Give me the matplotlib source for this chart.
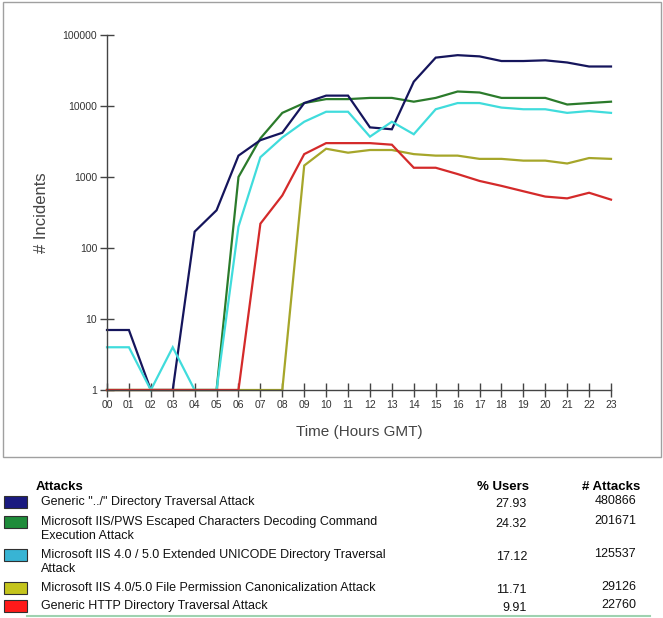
import numpy as np
import matplotlib
matplotlib.use("Agg")
import matplotlib.pyplot as plt
from matplotlib.patches import Rectangle
from matplotlib.lines import Line2D

W, H = 663, 618

hours = list(range(24))
hour_labels = [f"{h:02d}" for h in hours]

# incidents per hour
generic_dotdot = [7, 7, 1, 1, 170, 340, 2000, 3300, 4200, 11000, 14000, 14000,
                  5000, 4700, 22000, 48000, 52000, 50000, 43000, 43000, 44000,
                  41000, 36000, 36000]
iis_pws_escaped = [1, 1, 1, 1, 1, 1, 1000, 3500, 8000, 11000, 12500, 12500,
                   13000, 13000, 11500, 13000, 16000, 15500, 13000, 13000, 13000,
                   10500, 11000, 11500]
iis_unicode = [4, 4, 1, 4, 1, 1, 200, 1900, 3600, 6000, 8300, 8300,
               3700, 6000, 4000, 9000, 11000, 11000, 9500, 9000, 9000,
               8000, 8500, 8000]
iis_file_perm = [1, 1, 1, 1, 1, 1, 1, 1, 1, 1450, 2500, 2200,
                 2400, 2400, 2100, 2000, 2000, 1800, 1800, 1700, 1700,
                 1550, 1850, 1800]
generic_http = [1, 1, 1, 1, 1, 1, 1, 220, 550, 2100, 3000, 3000,
                3000, 2850, 1350, 1350, 1100, 880, 750, 630, 530,
                500, 600, 480]

y_ticks = [1, 10, 100, 1000, 10000, 100000]

attack_names = [
    'Generic "../" Directory Traversal Attack',
    "Microsoft IIS/PWS Escaped Characters Decoding Command\nExecution Attack",
    "Microsoft IIS 4.0 / 5.0 Extended UNICODE Directory Traversal\nAttack",
    "Microsoft IIS 4.0/5.0 File Permission Canonicalization Attack",
    "Generic HTTP Directory Traversal Attack",
]
pct_users = ["27.93", "24.32", "17.12", "11.71", "9.91"]
n_attacks = ["480866", "201671", "125537", "29126", "22760"]

series = [generic_dotdot, iis_pws_escaped, iis_unicode, iis_file_perm, generic_http]
line_colors = ["#15155c", "#2b7b2b", "#40dcdc", "#a6a62a", "#d42a2a"]
swatch_colors = ["#1a1a80", "#1e8c3a", "#38b4d4", "#c4c41c", "#ff1a1a"]
draw_order = [1, 0, 2, 3, 4]

plt.rcParams["font.family"] = ["Liberation Sans", "DejaVu Sans"]


def fx(x):
    return x / W


def fy(y):
    return 1 - y / H


fig = plt.figure(figsize=(W / 100, H / 100), dpi=100)

# grey frame round the chart
fig.patches.append(Rectangle((fx(3), fy(457)), fx(658), 455 / H, transform=fig.transFigure,
                             fill=False, edgecolor="#a0a0a0", linewidth=1.0))

ax = fig.add_axes([fx(107), fy(390), fx(611) - fx(107), (390 - 35) / H])
for i in draw_order:
    ax.plot(hours, series[i], color=line_colors[i], linewidth=1.6, clip_on=False,
            solid_joinstyle="miter")

ax.set_yscale("log")
ax.set_xlim(0, 23)
ax.set_ylim(1, 100000)
ax.set_xticks(hours)
ax.set_xticklabels(hour_labels)
ax.set_yticks(y_ticks)
ax.set_yticklabels([str(v) for v in y_ticks])
ax.minorticks_off()
for s in ["top", "right"]:
    ax.spines[s].set_visible(False)
for s in ["left", "bottom"]:
    ax.spines[s].set_color("#444444")
    ax.spines[s].set_linewidth(1.0)
ax.tick_params(direction="inout", length=10, width=1.0, color="#444444",
               labelsize=7.5, labelcolor="#333333", pad=2)
ax.set_xlabel("Time (Hours GMT)", fontsize=11, color="#444444", labelpad=11)
ax.set_ylabel("# Incidents", fontsize=12, color="#444444", labelpad=10)

# legend table below the chart
fig.text(fx(36), fy(487), "Attacks", fontsize=9.5, fontweight="bold", va="center")
fig.text(fx(529), fy(487), "% Users", fontsize=9.5, fontweight="bold", va="center", ha="right")
fig.text(fx(640), fy(487), "# Attacks", fontsize=9.5, fontweight="bold", va="center", ha="right")

row_y = [503, 523, 556, 589, 607]
for i in range(5):
    y = row_y[i]
    fig.patches.append(Rectangle((fx(4), fy(y + 5)), fx(23), 12 / H, transform=fig.transFigure,
                                 facecolor=swatch_colors[i], edgecolor="#303030", linewidth=0.8))
    fig.text(fx(41), fy(y - 7), attack_names[i], fontsize=9, va="top", color="#111111",
             linespacing=1.2)
    fig.text(fx(527), fy(y + 1), pct_users[i], fontsize=9, va="center", ha="right", color="#111111")
    fig.text(fx(636), fy(y - 2), n_attacks[i], fontsize=9, va="center", ha="right", color="#111111")

fig.lines.append(Line2D([fx(27), fx(650)], [fy(616), fy(616)], transform=fig.transFigure,
                        color="#9ed2b0", linewidth=1.5))

fig.savefig("out.png", dpi=100)
